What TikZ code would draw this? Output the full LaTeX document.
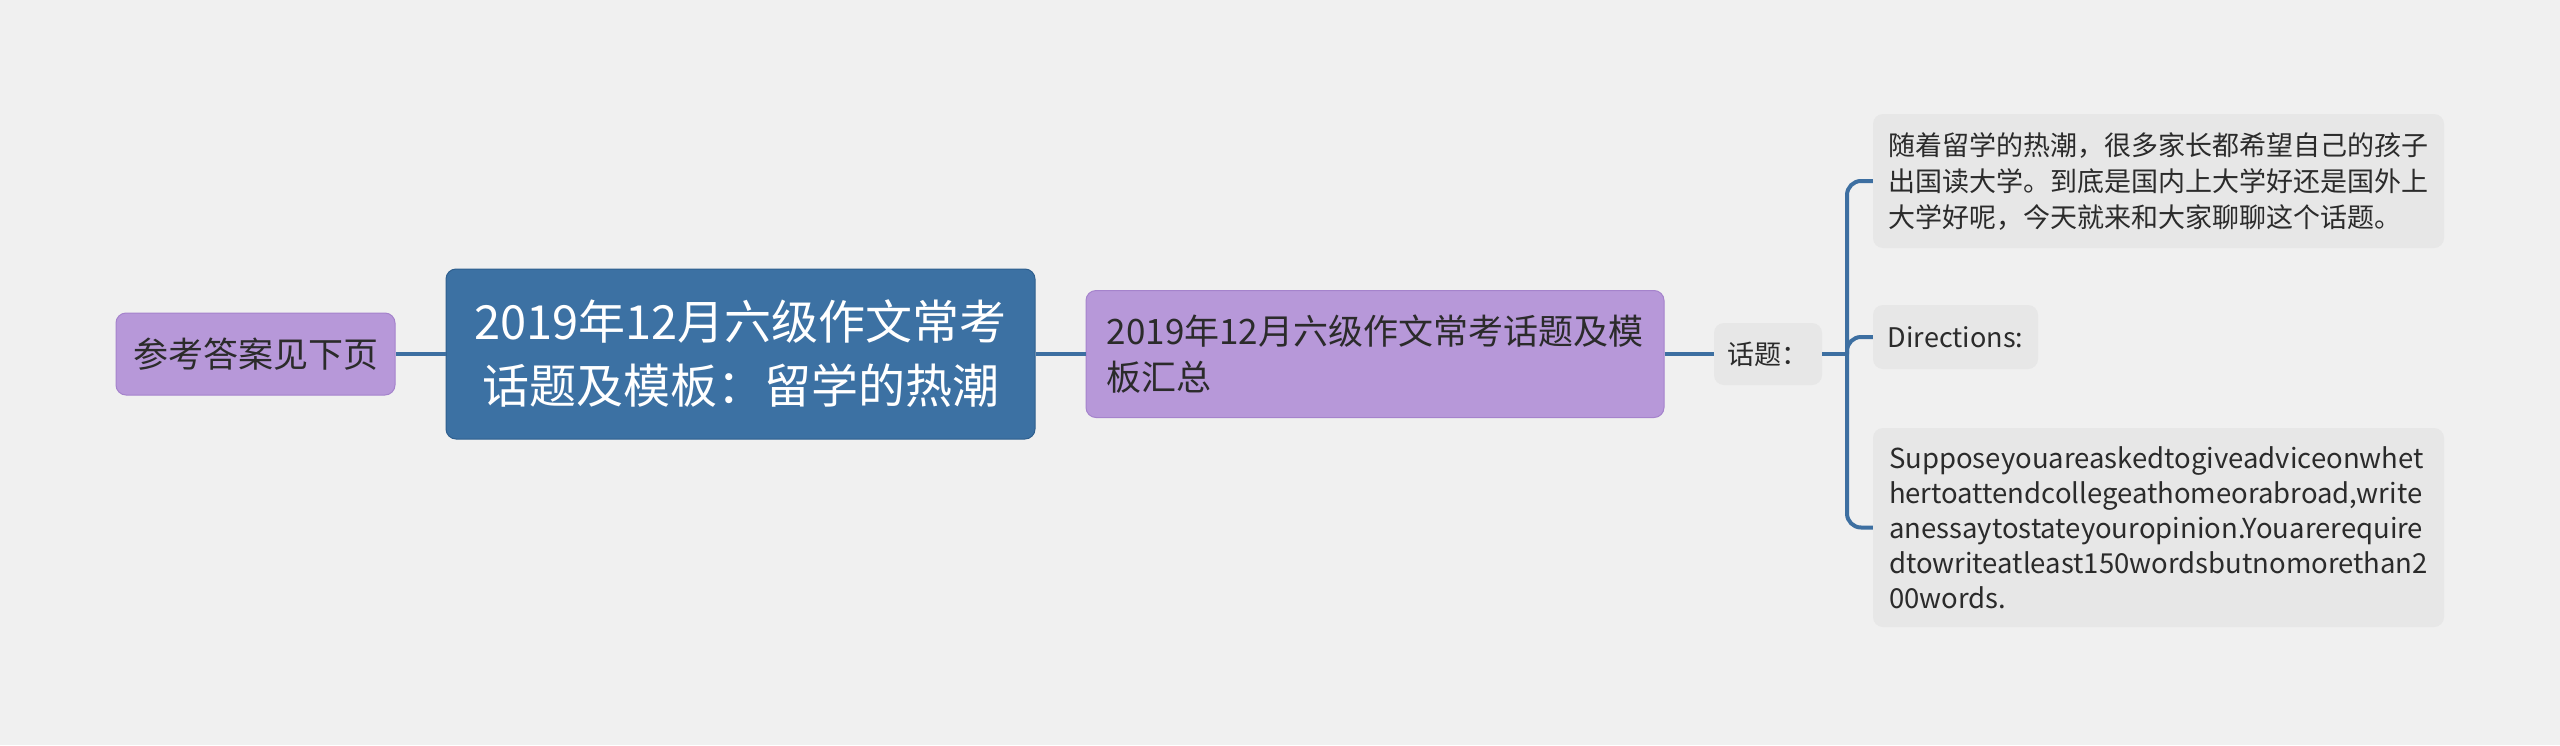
\documentclass[tikz,border=0pt]{standalone}
\usepackage{fontspec}
\setmainfont{Noto Sans CJK SC}
\definecolor{bg}{HTML}{F0F0F0}
\definecolor{purp}{HTML}{B798D9}
\definecolor{purpd}{HTML}{A583CC}
\definecolor{rootb}{HTML}{3C71A3}
\definecolor{rootd}{HTML}{2F5F8E}
\definecolor{leafg}{HTML}{E7E7E7}
\definecolor{lineb}{HTML}{3D6FA1}
\definecolor{txt}{HTML}{2B2B2B}
\tikzset{
  box/.style={rectangle, rounded corners=10pt, align=left, inner sep=0pt},
  purplebox/.style={box, fill=purp, draw=purpd, line width=1pt, text=txt},
  rootbox/.style={box, fill=rootb, draw=rootd, line width=1pt, text=white, align=center},
  leafbox/.style={box, fill=leafg, text=txt},
  conn/.style={draw=lineb, line width=4pt},
}
\begin{document}
\begin{tikzpicture}[x=1pt,y=-1pt]
\fill[bg] (0,0) rectangle (2560,745);
\useasboundingbox (0,0) rectangle (2560,745);

\node[purplebox, minimum width=279pt, minimum height=82pt, font=\fontsize{35}{46}\selectfont] (n1) at (255.5,354) {参考答案见下页};
\node[rootbox, minimum width=589pt, minimum height=170pt, font=\fontsize{47}{64}\selectfont] (root) at (740.5,354) {2019年12月六级作文常考\\话题及模板：留学的热潮};
\node[purplebox, minimum width=578pt, minimum height=127pt, font=\fontsize{35}{46}\selectfont] (n3) at (1375,354) {2019年12月六级作文常考话题及模\\板汇总};
\node[leafbox, minimum width=108pt, minimum height=62pt, font=\fontsize{27}{36}\selectfont] (t) at (1768,354) {话题：};
\node[leafbox, minimum width=571pt, minimum height=134pt, font=\fontsize{27}{36}\selectfont] (l1) at (2158.5,181) {随着留学的热潮，很多家长都希望自己的孩子\\出国读大学。到底是国内上大学好还是国外上\\大学好呢，今天就来和大家聊聊这个话题。};
\node[leafbox, minimum width=165pt, minimum height=64pt, font=\fontsize{27}{36}\selectfont] (l2) at (1955.5,337) {Directions:};
\node[leafbox, minimum width=571pt, minimum height=199pt, font=\fontsize{27.5}{35}\selectfont] (l3) at (2158.5,527.5) {Supposeyouareaskedtogiveadviceonwhet\\hertoattendcollegeathomeorabroad,write\\anessaytostateyouropinion.Youarerequire\\dtowriteatleast150wordsbutnomorethan2\\00words.};

\coordinate (bx) at (1847,354);
\draw[conn] (root.west) -- (n1.east);
\draw[conn] (root.east) -- (n3.west);
\draw[conn] (n3.east) -- (t.west);
\draw[conn] (t.east) -- (bx);
\draw[conn, rounded corners=14pt] (bx) |- (l1.west);
\draw[conn, rounded corners=14pt] (bx) |- (l2.west);
\draw[conn, rounded corners=14pt] (bx) |- (l3.west);
\end{tikzpicture}
\end{document}
